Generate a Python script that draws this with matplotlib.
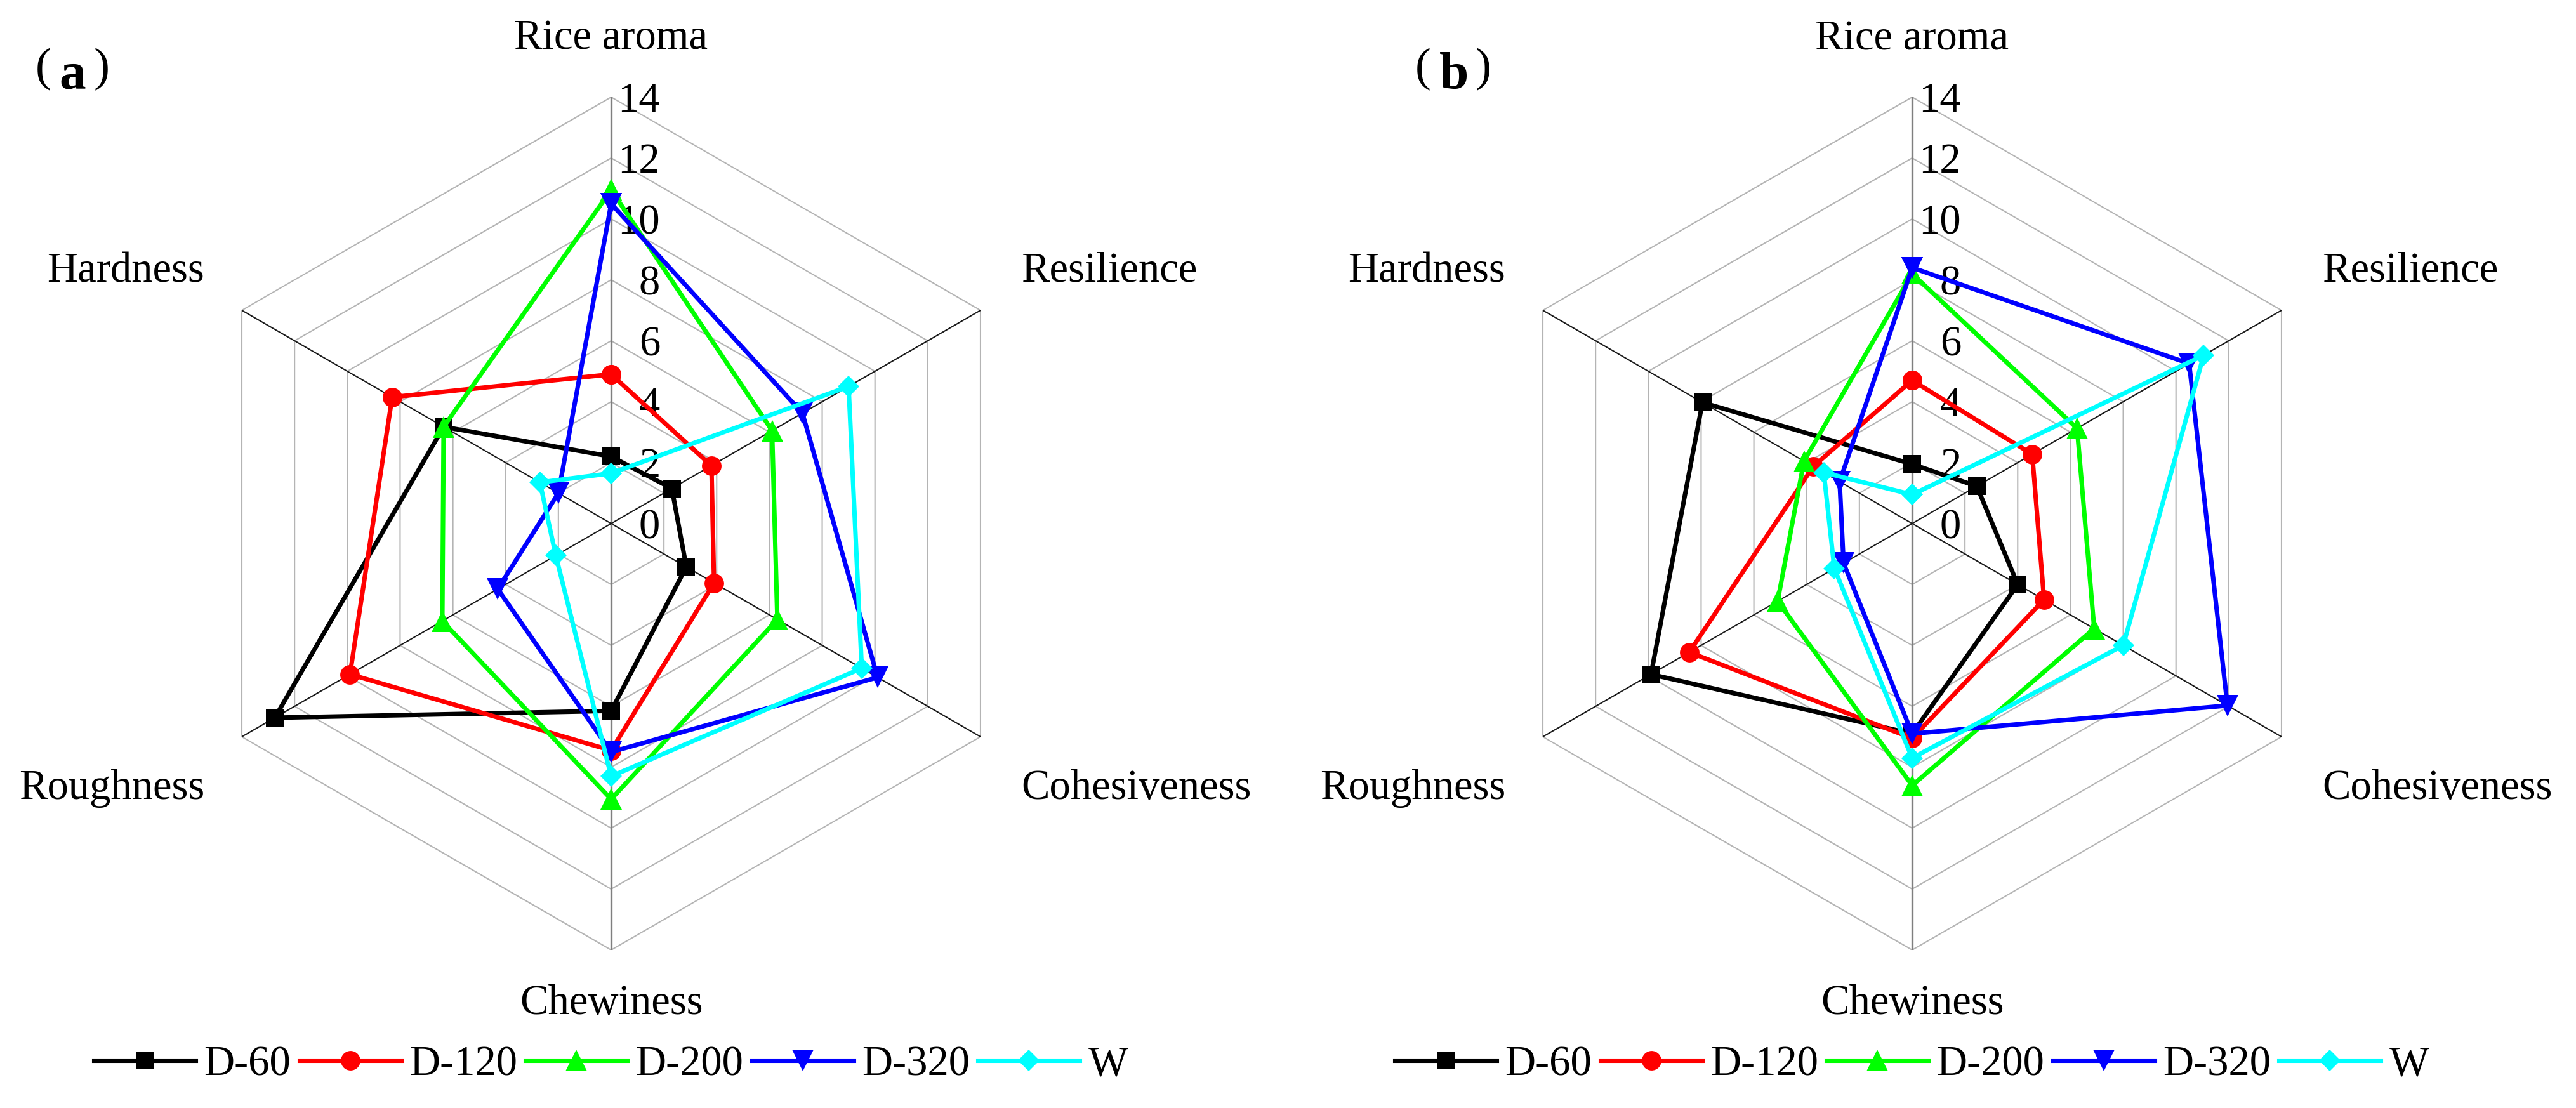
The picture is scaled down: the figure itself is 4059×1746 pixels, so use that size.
import numpy as np
import matplotlib.pyplot as plt

plt.rcParams['font.family'] = ['Liberation Serif', 'DejaVu Serif']

categories = ['Rice aroma', 'Resilience', 'Cohesiveness', 'Chewiness', 'Roughness', 'Hardness']
series_names = ['D-60', 'D-120', 'D-200', 'D-320', 'W']
ticks = [0, 2, 4, 6, 8, 10, 12, 14]

# panel (a)
a_d60 = [2.2, 2.3, 2.85, 6.15, 12.75, 6.35]
a_d120 = [4.9, 3.8, 3.9, 7.45, 9.9, 8.3]
a_d200 = [10.95, 6.1, 6.3, 9.05, 6.4, 6.35]
a_d320 = [10.5, 7.25, 10.1, 7.5, 4.3, 2.0]
a_w = [1.65, 9.0, 9.5, 8.3, 2.1, 2.7]

# panel (b)
b_d60 = [1.95, 2.45, 4.0, 6.9, 9.9, 7.95]
b_d120 = [4.7, 4.55, 5.0, 7.05, 8.45, 3.75]
b_d200 = [8.2, 6.25, 6.9, 8.6, 5.1, 4.1]
b_d320 = [8.4, 10.5, 11.95, 6.9, 2.6, 2.75]
b_w = [0.95, 11.05, 8.0, 7.7, 2.95, 3.35]

colors = ['#000000', '#FF0000', '#00FF00', '#0000FF', '#00FFFF']
markers = ['s', 'o', '^', 'v', 'D']
msizes = [6.8, 7.4, 8.2, 8.2, 5.8]

W, H = 4059, 1746
fig = plt.figure(figsize=(W / 300, H / 300), dpi=300)

angles = np.linspace(0, 2 * np.pi, len(categories), endpoint=False)
closed = np.append(angles, angles[0])


def radar(cx, cy, data, panel, panel_x):
    R = 672
    ax = fig.add_axes([(cx - R) / W, (H - cy - R) / H, 2 * R / W, 2 * R / H],
                      projection='polar')
    ax.set_theta_offset(np.pi / 2)
    ax.set_theta_direction(-1)
    ax.set_ylim(0, 14)
    ax.grid(False)
    ax.spines['polar'].set_visible(False)
    ax.patch.set_visible(False)
    ax.set_xticks([])
    ax.set_yticks([])

    # hexagon rings
    for t in ticks[1:]:
        ax.plot(closed, [t] * len(closed), color='#b4b4b4', lw=0.5, zorder=1)
    # spokes
    for i, a in enumerate(angles):
        if i in (0, 3):
            ax.plot([a, a], [0, 14], color='#7f7f7f', lw=0.8, zorder=2)
        else:
            ax.plot([a, a], [0, 14], color='#1a1a1a', lw=0.5, zorder=2)

    # radial labels
    for t in ticks:
        ax.annotate(str(t), xy=(0, t), xytext=(18.5, -5.6), textcoords='offset points',
                    ha='right', va='baseline', fontsize=16, zorder=3)

    # category labels
    offs = [(0, 18, 'center'), (15.4, 10.8, 'left'), (15.4, -23.5, 'left'),
            (0, -24.3, 'center'), (-14.2, -23.5, 'right'), (-14.2, 10.8, 'right')]
    for a, lab, (dx, dy, ha) in zip(angles, categories, offs):
        ax.annotate(lab, xy=(a, 14), xytext=(dx, dy), textcoords='offset points',
                    ha=ha, va='baseline', fontsize=16, annotation_clip=False)

    for vals, name, c, m, ms in zip(data, series_names, colors, markers, msizes):
        ax.plot(closed, np.append(vals, vals[0]), color=c, lw=1.7, marker=m,
                markersize=ms, markeredgewidth=0, label=name, zorder=5, clip_on=False)

    # panel label
    lx, rx, letter_x = panel_x
    fig.text(lx / W, 1 - 127 / H, '(', fontsize=18, ha='center', va='baseline')
    fig.text(letter_x / W, 1 - 139 / H, panel, fontsize=20, fontweight='bold',
             ha='center', va='baseline')
    fig.text(rx / W, 1 - 127 / H, ')', fontsize=18, ha='center', va='baseline')

    h, l = ax.get_legend_handles_labels()
    fig.legend(h, l, loc='center', bbox_to_anchor=(cx / W, (H - 1678) / H), ncol=5,
               frameon=False, fontsize=16, handlelength=2.4, handletextpad=0.2,
               columnspacing=0.2, borderaxespad=0)
    return ax


radar(963, 825, [a_d60, a_d120, a_d200, a_d320, a_w], 'a', (68, 160, 114))
radar(3013, 825, [b_d60, b_d120, b_d200, b_d320, b_w], 'b', (2242, 2337, 2291))

fig.savefig('out.png', dpi=300, facecolor='white')
